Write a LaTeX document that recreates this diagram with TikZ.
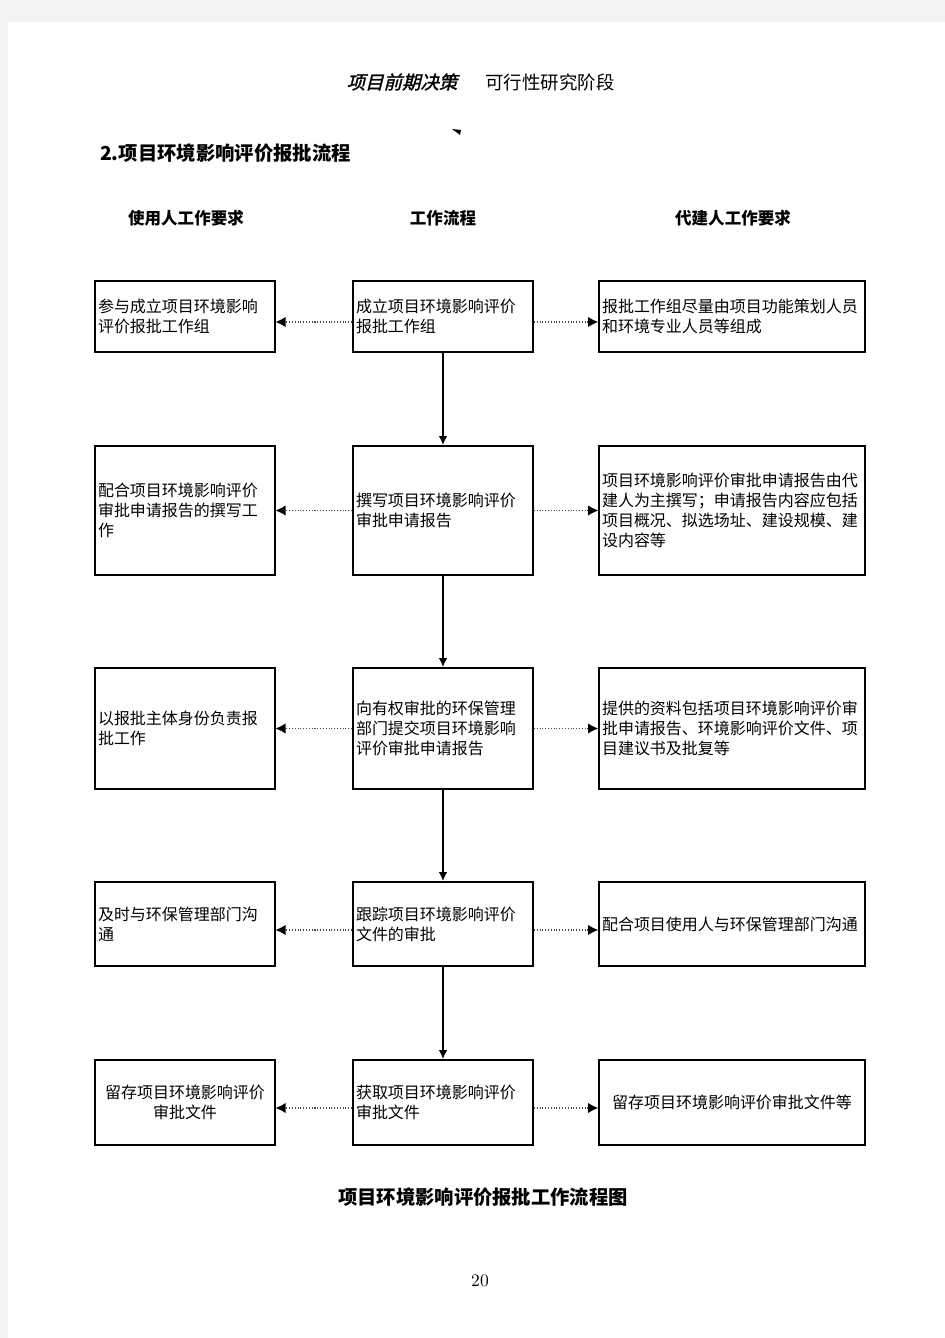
\documentclass[tikz,border=0pt]{standalone}
\usepackage{fontspec}
\newfontfamily\cjk{Noto Sans CJK SC}
\newfontfamily\cjkit[FakeSlant=0.25,FakeBold=1.5]{Noto Sans CJK SC}
\usetikzlibrary{arrows,arrows.meta}
\definecolor{pagegray}{HTML}{F3F3F3}

\begin{document}
\begin{tikzpicture}[x=0.02cm,y=-0.02cm,
  box/.style={draw,rectangle,inner xsep=0.06cm,inner ysep=0pt,align=left,
    font=\cjk\fontsize{9.1pt}{11.4pt}\selectfont},
  userbox/.style={box,line width=0.7pt,text width=3.48cm},
  flowbox/.style={box,line width=1.1pt,text width=3.48cm},
  agentbox/.style={box,line width=1.1pt,text width=5.2cm},
  colhead/.style={font=\cjk\bfseries\fontsize{9.4pt}{11pt}\selectfont},
  flow/.style={-{Latex[length=1.8mm,width=1.7mm]},line width=0.8pt},
  side/.style={-{Latex[length=2mm,width=2mm,color=black,line width=0pt]},densely dotted,line width=0.6pt,draw=black!70}]
% page
\fill[pagegray] (0,0) rectangle (945,1338);
\fill[white] (8,22) rectangle (945,1338);
% header
\node[font=\cjkit\fontsize{10.5pt}{12pt}\selectfont] (hdra) at (402,82) {项目前期决策};
\node[font=\cjk\fontsize{10.5pt}{12pt}\selectfont] (hdrb) at (550,82) {可行性研究阶段};
\fill (452,129) -- (461,130) -- (460,135) -- cycle;
\node[anchor=west,font=\cjk\bfseries\fontsize{11pt}{13pt}\selectfont] (title) at (94,153) {2.项目环境影响评价报批流程};
\node[colhead] (hu) at (186,218) {使用人工作要求};
\node[colhead] (hm) at (443,218) {工作流程};
\node[colhead] (ha) at (733,218) {代建人工作要求};
% row 1
\node[userbox,minimum height=1.42cm] (l1) at (185,316.5) {参与成立项目环境影响\\评价报批工作组};
\node[flowbox,minimum height=1.42cm] (m1) at (443,316.5) {成立项目环境影响评价\\报批工作组};
\node[agentbox,minimum height=1.42cm] (a1) at (732,316.5) {报批工作组尽量由项目功能策划人员\\和环境专业人员等组成};
% row 2
\node[userbox,minimum height=2.58cm] (l2) at (185,510.5) {配合项目环境影响评价\\审批申请报告的撰写工\\作};
\node[flowbox,minimum height=2.58cm] (m2) at (443,510.5) {撰写项目环境影响评价\\审批申请报告};
\node[agentbox,minimum height=2.58cm] (a2) at (732,510.5) {项目环境影响评价审批申请报告由代\\建人为主撰写；申请报告内容应包括\\项目概况、拟选场址、建设规模、建\\设内容等};
% row 3
\node[userbox,minimum height=2.42cm] (l3) at (185,728.5) {以报批主体身份负责报\\批工作};
\node[flowbox,minimum height=2.42cm] (m3) at (443,728.5) {向有权审批的环保管理\\部门提交项目环境影响\\评价审批申请报告};
\node[agentbox,minimum height=2.42cm] (a3) at (732,728.5) {提供的资料包括项目环境影响评价审\\批申请报告、环境影响评价文件、项\\目建议书及批复等};
% row 4
\node[userbox,minimum height=1.68cm] (l4) at (185,924) {及时与环保管理部门沟\\通};
\node[flowbox,minimum height=1.68cm] (m4) at (443,924) {跟踪项目环境影响评价\\文件的审批};
\node[agentbox,minimum height=1.68cm] (a4) at (732,924) {配合项目使用人与环保管理部门沟通};
% row 5
\node[userbox,align=center,minimum height=1.7cm] (l5) at (185,1102.5) {留存项目环境影响评价\\审批文件};
\node[flowbox,minimum height=1.7cm] (m5) at (443,1102.5) {获取项目环境影响评价\\审批文件};
\node[agentbox,align=center,minimum height=1.7cm] (a5) at (732,1102.5) {留存项目环境影响评价审批文件等};
% connectors
\draw[flow] (m1) -- (m2);
\draw[flow] (m2) -- (m3);
\draw[flow] (m3) -- (m4);
\draw[flow] (m4) -- (m5);
\draw[side] ([yshift=-0.11cm]m1.west) -- ([yshift=-0.11cm]l1.east);
\draw[side] ([yshift=-0.11cm]m1.east) -- ([yshift=-0.11cm]a1.west);
\draw[side] (m2.west) -- (l2.east);
\draw[side] (m2.east) -- (a2.west);
\draw[side] (m3.west) -- (l3.east);
\draw[side] (m3.east) -- (a3.west);
\draw[side] ([yshift=-0.12cm]m4.west) -- ([yshift=-0.12cm]l4.east);
\draw[side] ([yshift=-0.12cm]m4.east) -- ([yshift=-0.12cm]a4.west);
\draw[side] ([yshift=-0.11cm]m5.west) -- ([yshift=-0.11cm]l5.east);
\draw[side] ([yshift=-0.11cm]m5.east) -- ([yshift=-0.11cm]a5.west);
% caption
\node[font=\cjk\bfseries\fontsize{11pt}{13pt}\selectfont] (cap) at (483,1197) {项目环境影响评价报批工作流程图};
\node[font=\fontsize{10pt}{12pt}\selectfont] (pg) at (480,1281) {20};
\end{tikzpicture}
\end{document}
